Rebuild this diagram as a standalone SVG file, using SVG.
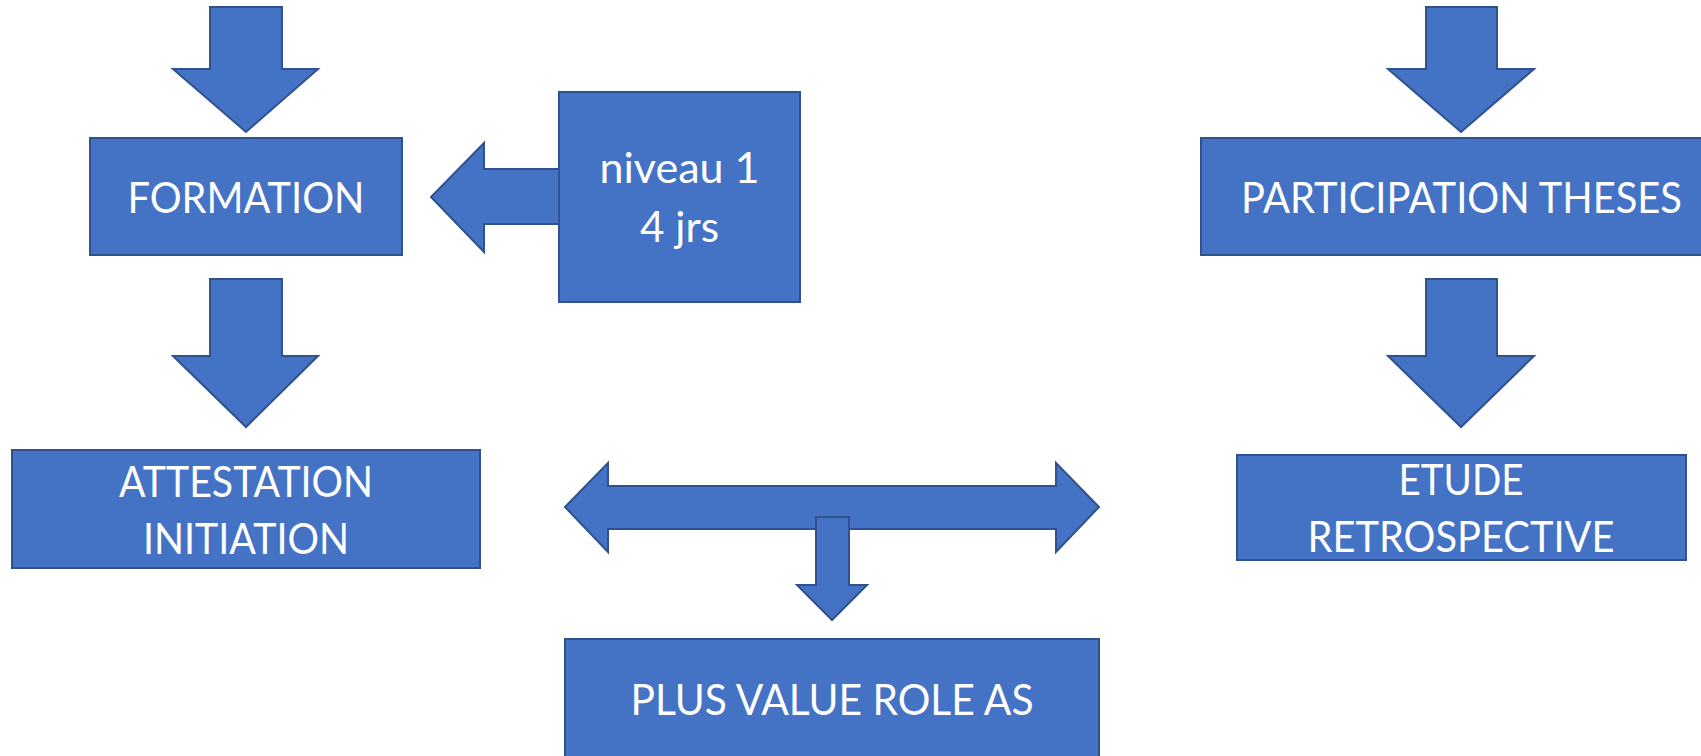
<svg xmlns="http://www.w3.org/2000/svg" width="1701" height="756" viewBox="0 0 1701 756">
<style>
.shape{fill:#4472C4;stroke:#2F528F;stroke-width:2;stroke-linejoin:miter}
.lbl{fill:#FFFFFF;font-family:Lato,"Liberation Sans",sans-serif;font-size:43px;text-anchor:middle}
</style>
<rect width="1701" height="756" fill="#FFFFFF"/>
<g id="connectors">
<path class="shape" d="M210,7 H282 V69 H318 L246,132 L173,69 H210 Z"/>
<path class="shape" d="M210,279 H282 V356 H318 L246,427 L173,356 H210 Z"/>
<path class="shape" d="M1426,7 H1497 V69 H1534 L1461,132 L1388,69 H1426 Z"/>
<path class="shape" d="M1426,279 H1497 V356 H1534 L1461,427 L1388,356 H1426 Z"/>
<path class="shape" d="M560,169 H484 V143 L431,197 L484,252 V224 H560 Z"/>
<path class="shape" d="M565,507 L608,463 V486 H1056 V463 L1099,507 L1056,552 V529 H608 V552 Z"/>
<path class="shape" d="M816,517 H849 V585 H867 L832,620 L797,585 H816 Z"/>
</g>
<g id="formation">
<rect class="shape" x="90" y="138" width="312" height="117"/>
<text class="lbl" x="246" y="213" textLength="237" lengthAdjust="spacingAndGlyphs">FORMATION</text>
</g>
<g id="niveau">
<rect class="shape" x="559" y="92" width="241" height="210"/>
<text class="lbl" x="679.5" y="183" textLength="160" lengthAdjust="spacingAndGlyphs">niveau 1</text>
<text class="lbl" x="679.5" y="242" textLength="79" lengthAdjust="spacingAndGlyphs">4 jrs</text>
</g>
<g id="attestation">
<rect class="shape" x="12" y="450" width="468" height="118"/>
<text class="lbl" x="246" y="497" textLength="254" lengthAdjust="spacingAndGlyphs">ATTESTATION</text>
<text class="lbl" x="246" y="554" textLength="206" lengthAdjust="spacingAndGlyphs">INITIATION</text>
</g>
<g id="plus-value">
<rect class="shape" x="565" y="639" width="534" height="130"/>
<text class="lbl" x="832" y="715" textLength="403" lengthAdjust="spacingAndGlyphs">PLUS VALUE ROLE AS</text>
</g>
<g id="participation">
<rect class="shape" x="1201" y="138" width="510" height="117"/>
<text class="lbl" x="1461.5" y="213" textLength="441" lengthAdjust="spacingAndGlyphs">PARTICIPATION THESES</text>
</g>
<g id="etude">
<rect class="shape" x="1237" y="455" width="449" height="105"/>
<text class="lbl" x="1461" y="495" textLength="125" lengthAdjust="spacingAndGlyphs">ETUDE</text>
<text class="lbl" x="1461" y="552" textLength="307" lengthAdjust="spacingAndGlyphs">RETROSPECTIVE</text>
</g>
</svg>
